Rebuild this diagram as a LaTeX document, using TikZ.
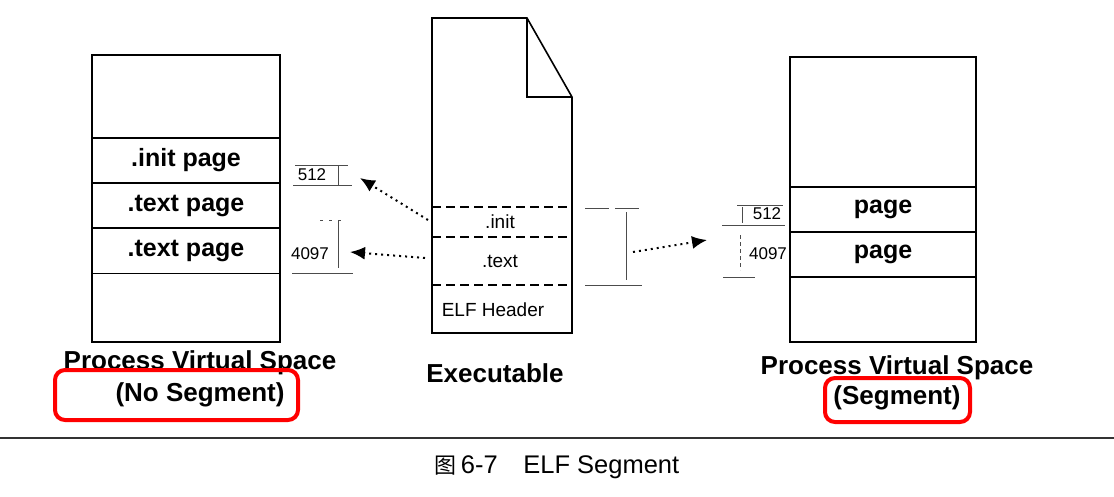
\documentclass[tikz,border=0pt]{standalone}
\usepackage{fontspec}
\setmainfont{Liberation Sans}
\newfontfamily\cjk{Noto Sans CJK SC}
\usetikzlibrary{arrows.meta}

\begin{document}
\begin{tikzpicture}[x=1pt, y=-1pt,
    pagerow/.style={draw, line width=1.6pt, minimum width=188pt, minimum height=45pt, inner sep=0pt, font=\fontsize{25}{25}\selectfont\bfseries},
    secrow/.style={inner sep=0pt, font=\fontsize{19}{19}\selectfont},
    offsetnum/.style={inner sep=0pt, font=\fontsize{17}{17}\selectfont},
    bracket/.style={line width=0.8pt, black!70},
    pointer/.style={line width=2pt, dash pattern=on 2pt off 4pt, -{Latex[length=15pt, width=13pt]}},
    spacename/.style={inner sep=0pt, font=\fontsize{26}{26}\selectfont\bfseries},
    highlight/.style={draw=red, line width=4pt, rounded corners=10pt}]
        \useasboundingbox (0,0) rectangle (1114,496);

        % Process virtual space without segments
        \node[draw, line width=1.6pt, minimum width=188pt, minimum height=287pt, inner sep=0pt] (lbox) at (186,198.5) {};
        \node[pagerow] (linit) at (186,160.5) {.init page};
        \node[pagerow] (ltext1) at (186,205.5) {.text page};
        \node[pagerow] (ltext2) at (186,251) {.text page};

        % Executable file
        \draw[line width=1.6pt] (432,18) -- (527,18) -- (572,97) -- (572,333) -- (432,333) -- cycle;
        \draw[line width=1.6pt] (527,18) -- (527,97) -- (572,97);
        \draw[line width=2pt, dash pattern=on 9pt off 5pt] (432,207) -- (572,207);
        \draw[line width=2pt, dash pattern=on 9pt off 5pt] (432,237) -- (572,237);
        \draw[line width=2pt, dash pattern=on 9pt off 5pt] (432,285) -- (572,285);
        \node[secrow] (finit) at (500,222) {.init};
        \node[secrow] (ftext) at (500,261) {.text};
        \node[secrow] (fhdr) at (493,310) {ELF Header};

        % Process virtual space with segments
        \node[draw, line width=1.6pt, minimum width=186pt, minimum height=285pt, inner sep=0pt] (rbox) at (883,199.5) {};
        \node[pagerow, minimum width=186pt] (rpage1) at (883,209.5) {page};
        \node[pagerow, minimum width=186pt] (rpage2) at (883,254.5) {page};

        % offsets, left side
        \node[offsetnum] (l512) at (312,175) {512};
        \node[offsetnum] (l4097) at (310,254) {4097};
        \draw[bracket] (295,165) -- (348,165);
        \draw[bracket] (293,185) -- (352,185);
        \draw[bracket] (338,165) -- (338,185);
        \draw[bracket, dash pattern=on 3pt off 6pt] (320,220) -- (345,220);
        \draw[bracket] (338,220) -- (338,268);
        \draw[bracket] (292,273) -- (353,273);

        % extent of segment in the file
        \draw[bracket, dash pattern=on 24pt off 6pt] (585,208) -- (642,208);
        \draw[bracket] (626,212) -- (626,280);
        \draw[bracket] (585,285) -- (642,285);

        % offsets, right side
        \node[offsetnum] (r512) at (767,214) {512};
        \node[offsetnum] (r4097) at (768,254) {4097};
        \draw[bracket] (737,205) -- (783,205);
        \draw[bracket] (742,207) -- (742,223);
        \draw[bracket] (722,225) -- (785,225);
        \draw[bracket, dash pattern=on 4pt off 3pt] (740,235) -- (740,270);
        \draw[bracket] (723,277) -- (755,277);

        % pointers
        \coordinate (pinit) at (428,220);
        \coordinate (ptext) at (425,258);
        \coordinate (pseg) at (633,252);
        \coordinate (t512) at (360,178);
        \coordinate (t4097) at (350,252);
        \coordinate (tseg) at (707,240);
        \draw[pointer] (pinit) -- (t512);
        \draw[pointer] (ptext) -- (t4097);
        \draw[pointer] (pseg) -- (tseg);

        % labels
        \node[spacename] (lname) at (200,363) {Process Virtual Space};
        \node[spacename] (lkind) at (200,395) {(No Segment)};
        \node[spacename] (fname) at (495,373) {Executable};
        \node[spacename] (rname) at (897,368) {Process Virtual Space};
        \node[spacename] (rkind) at (897,398) {(Segment)};
        \draw[highlight] (55,370) rectangle (298,420);
        \draw[highlight] (825,378) rectangle (970,422);

        % caption
        \draw[line width=1.5pt, black!80] (0,438) -- (1114,438);
        \node[inner sep=0pt, font=\fontsize{25.5}{25.5}\selectfont] (caption) at (557,467) {{\cjk\fontsize{22}{22}\selectfont 图}\,6-7\quad ELF Segment};
\end{tikzpicture}
\end{document}
